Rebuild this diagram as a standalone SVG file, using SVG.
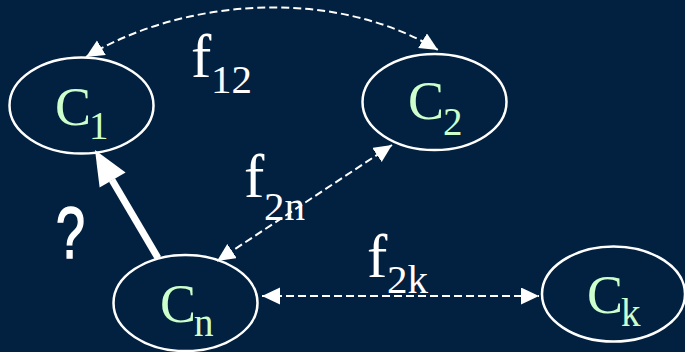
<svg xmlns="http://www.w3.org/2000/svg" width="685" height="352" viewBox="0 0 685 352">
  <style>
    .node { fill: none; stroke: #ffffff; stroke-width: 2.5; }
    .name { font-family: "Liberation Serif", "Times New Roman", serif; fill: #ccffcc; font-size: 54px; }
    .sub { font-family: "Liberation Serif", "Times New Roman", serif; fill: #ccffcc; font-size: 39px; }
    .lbl { font-family: "Liberation Serif", "Times New Roman", serif; fill: #ffffff; font-size: 61px; }
    .lsub { font-family: "Liberation Serif", "Times New Roman", serif; fill: #ffffff; font-size: 41px; }
    .dash { fill: none; stroke: #ffffff; stroke-width: 2; stroke-dasharray: 8 4; }
  </style>
  <defs>
    <marker id="ah" markerUnits="userSpaceOnUse" markerWidth="20" markerHeight="20" refX="18" refY="8.5" orient="auto-start-reverse">
      <path d="M0,0 L18,8.5 L0,17 z" fill="#ffffff"/>
    </marker>
  </defs>
  <rect x="0" y="0" width="685" height="352" fill="#02203f"/>

  <g id="connectors">
    <path id="f12-edge" class="dash" d="M86,57 C180,0 330,-15 438,50" marker-start="url(#ah)" marker-end="url(#ah)"/>
    <line id="f2n-edge" class="dash" x1="392" y1="145" x2="217" y2="261" marker-start="url(#ah)" marker-end="url(#ah)"/>
    <line id="f2k-edge" class="dash" x1="262" y1="296" x2="539" y2="296" marker-start="url(#ah)" marker-end="url(#ah)"/>
    <g id="query-edge">
      <line x1="158" y1="258" x2="112" y2="180" stroke="#ffffff" stroke-width="7"/>
      <polygon points="95,150 125.6,172.4 99.6,187.6" fill="#ffffff"/>
    </g>
  </g>

  <g id="C1">
    <ellipse class="node" cx="81.5" cy="105.5" rx="72" ry="48"/>
    <text class="name" x="55" y="125">C</text>
    <text class="sub" x="89" y="139">1</text>
  </g>
  <g id="C2">
    <ellipse class="node" cx="434.5" cy="102" rx="72" ry="48"/>
    <text class="name" x="408" y="119">C</text>
    <text class="sub" x="443" y="135">2</text>
  </g>
  <g id="Cn">
    <ellipse class="node" cx="185.5" cy="303" rx="72" ry="48"/>
    <text class="name" x="160" y="322">C</text>
    <text class="sub" x="194" y="336">n</text>
  </g>
  <g id="Ck">
    <ellipse class="node" cx="613.5" cy="294" rx="71.5" ry="47.5"/>
    <text class="name" x="587" y="313">C</text>
    <text class="sub" x="621" y="326">k</text>
  </g>

  <g id="labels">
    <text class="lbl" x="191" y="77">f</text>
    <text class="lsub" x="211" y="93">12</text>
    <text class="lbl" x="244" y="197">f</text>
    <text class="lsub" x="264" y="220">2n</text>
    <text class="lbl" x="367" y="277">f</text>
    <text class="lsub" x="387" y="293">2k</text>
    <text transform="translate(56,258) scale(1,1.4)" font-family="Liberation Sans, Arial, sans-serif" font-size="52" fill="#ffffff" stroke="#ffffff" stroke-width="1.2">?</text>
  </g>
</svg>
